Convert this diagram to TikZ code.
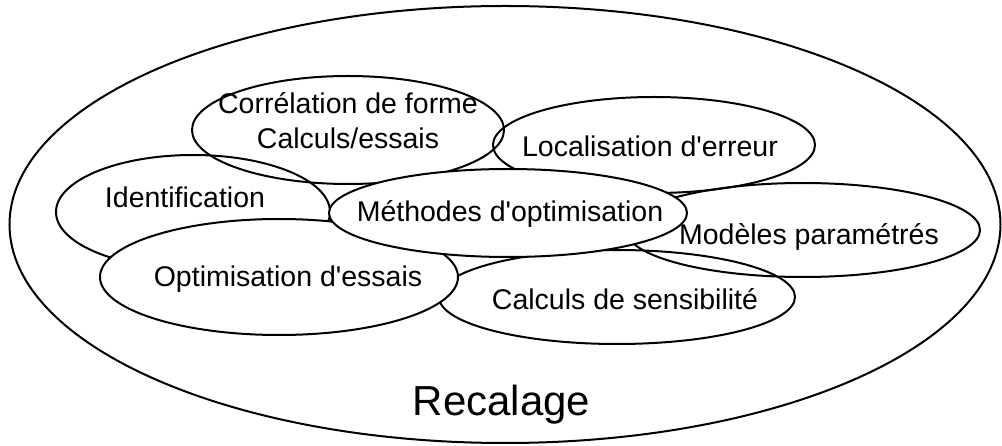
\documentclass[tikz,border=0pt]{standalone}
\usepackage{fontspec}
\setmainfont{Liberation Sans}
\usetikzlibrary{shapes.geometric}

\begin{document}
\begin{tikzpicture}[x=1pt, y=-1pt, line width=2pt,
    bulle/.style = {draw, ellipse, inner sep=0pt},
    plein/.style = {bulle, fill=white},
    txt/.style = {anchor=base, inner sep=0pt, font=\fontsize{28.5}{35}\selectfont}
    ]
\useasboundingbox (0,0) rectangle (1002,446);

% ellipses, de l'arriere vers l'avant
\node[bulle, minimum width=991, minimum height=437] (0) at (505,224.5) {};
\node[bulle, minimum width=274, minimum height=114] (1) at (193,212) {};
\node[bulle, minimum width=312, minimum height=108] (2) at (348,130) {};
\node[bulle, minimum width=322, minimum height=96] (3) at (654,145) {};
\node[bulle, minimum width=354, minimum height=94] (4) at (803,230) {};
\node[bulle, minimum width=356, minimum height=94] (5) at (617,297) {};
\node[plein, minimum width=358, minimum height=116] (6) at (279,277) {};
\node[plein, minimum width=358, minimum height=88] (7) at (508,213) {};

% textes
\node[txt] (t0) at (501.5,415) {\fontsize{42}{48}\selectfont Recalage};
\node[txt] (t1) at (185,208) {Identification};
\node[txt, anchor=center, align=center] (t2) at (348,121) {Corrélation de forme\\Calculs/essais};
\node[txt] (t3) at (650,157) {Localisation d\textquotesingle erreur};
\node[txt] (t4) at (809,245) {Modèles paramétrés};
\node[txt] (t5) at (625,310) {Calculs de sensibilité};
\node[txt] (t6) at (288,287) {Optimisation d\textquotesingle essais};
\node[txt] (t7) at (510,222) {Méthodes d\textquotesingle optimisation};

\end{tikzpicture}
\end{document}
